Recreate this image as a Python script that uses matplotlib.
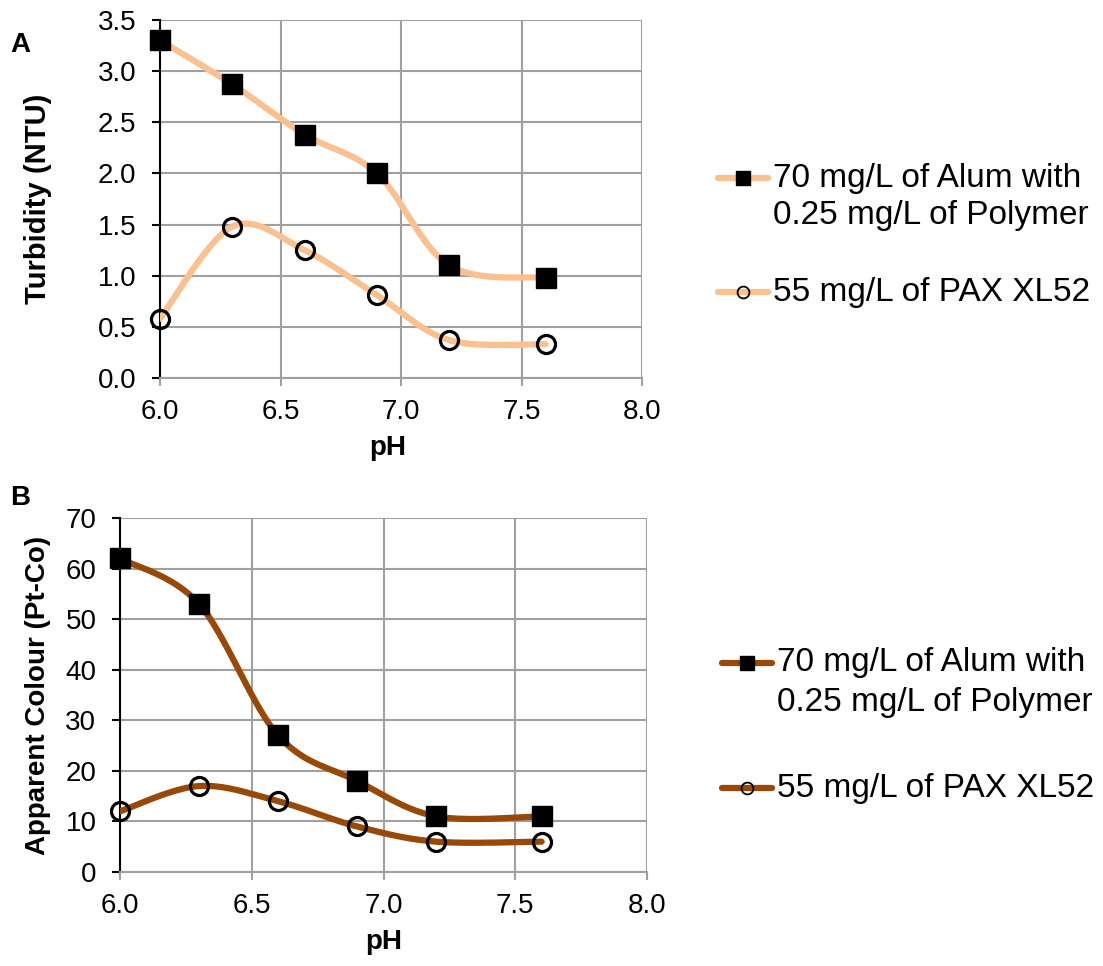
import numpy as np
import matplotlib.pyplot as plt
from matplotlib.lines import Line2D

plt.rcParams['font.family'] = ['Liberation Sans', 'DejaVu Sans']

# data
ph = [6.0, 6.3, 6.6, 6.9, 7.2, 7.6]
turb_alum = [3.30, 2.87, 2.38, 2.00, 1.10, 0.98]
turb_pax = [0.58, 1.48, 1.25, 0.81, 0.37, 0.33]
colour_alum = [62, 53, 27, 18, 11, 11]
colour_pax = [12, 17, 14, 9, 6, 6]

label_alum = '70 mg/L of Alum with\n0.25 mg/L of Polymer'
label_pax = '55 mg/L of PAX XL52'

W, H = 1103, 966
grid_col = '#A0A0A0'


def excel_smooth(xs, ys, sx, sy, n=40):
    # bezier smoothing like Excel's "smoothed line", done in pixel space
    pts = np.column_stack([np.asarray(xs) * sx, np.asarray(ys) * sy])
    t = np.linspace(0, 1, n)[:, None]
    segs = []
    for i in range(len(pts) - 1):
        p0 = pts[i - 1] if i > 0 else pts[i]
        p1, p2 = pts[i], pts[i + 1]
        p3 = pts[i + 2] if i + 2 < len(pts) else pts[i + 1]
        c1 = p1 + (p2 - p0) / 6
        c2 = p2 - (p3 - p1) / 6
        segs.append((1 - t) ** 3 * p1 + 3 * (1 - t) ** 2 * t * c1
                    + 3 * (1 - t) * t ** 2 * c2 + t ** 3 * p2)
    out = np.vstack(segs)
    return out[:, 0] / sx, out[:, 1] / sy


def make_panel(rect_px, ymax, ystep, yfmt, line_col, y1, y2, ylabel, ylabel_size,
               letter, letter_xy, xlabel_x, legend_px):
    l, t, r, b = rect_px
    ax = fig.add_axes([l / W, 1 - b / H, (r - l) / W, (b - t) / H])
    sx = (r - l) / 2.0
    sy = (b - t) / ymax

    for ys in (y1, y2):
        xs_s, ys_s = excel_smooth(ph, ys, sx, sy)
        ax.plot(xs_s, ys_s, color=line_col, lw=4.5, solid_capstyle='round', zorder=3)
    ax.plot(ph, y1, ls='none', marker='s', ms=14, mfc='black', mec='black',
            zorder=4, clip_on=False)
    ax.plot(ph, y2, ls='none', marker='o', ms=13, mfc='none', mec='black',
            mew=2.3, zorder=4, clip_on=False)

    ax.set_xlim(6.0, 8.0)
    ax.set_ylim(0, ymax)
    ax.set_xticks(np.arange(6.0, 8.01, 0.5))
    ax.set_yticks(np.arange(0, ymax + ystep / 2, ystep))
    ax.xaxis.set_major_formatter(plt.FormatStrFormatter('%.1f'))
    ax.yaxis.set_major_formatter(plt.FormatStrFormatter(yfmt))
    ax.grid(True, color=grid_col, lw=1.5, zorder=0)
    ax.set_axisbelow(True)
    for s in ('top', 'right'):
        ax.spines[s].set_visible(False)
    ax.spines['bottom'].set_color(grid_col)
    ax.spines['bottom'].set_linewidth(1.5)
    ax.spines['left'].set_color('black')
    ax.spines['left'].set_linewidth(1.5)
    ax.spines['left'].set_zorder(2.5)
    ax.tick_params(axis='x', colors=grid_col, length=6, width=1.5,
                   labelcolor='black', labelsize=20, pad=9)
    ax.tick_params(axis='y', colors='black', length=6, width=1.5,
                   labelsize=20, pad=11)

    ax.set_xlabel('pH', fontsize=20, fontweight='bold')
    ax.xaxis.set_label_coords((xlabel_x - l) / (r - l), -0.16)
    ax.set_ylabel(ylabel, fontsize=ylabel_size, fontweight='bold', va='center')
    ax.yaxis.set_label_coords((38 - l) / (r - l), 0.5)

    fig.text(letter_xy[0] / W, 1 - letter_xy[1] / H, letter, fontsize=20,
             fontweight='bold', ha='left', va='center')

    # legend drawn to the right of the panel
    hx0, hx1, tx, ya, yb, yc = legend_px
    for yy, mk, ms, mfc, mew in ((ya, 's', 10, 'black', 1.0),
                                 (yc, 'o', 8.5, 'none', 1.3)):
        fig.add_artist(Line2D([hx0 / W, hx1 / W], [1 - yy / H, 1 - yy / H],
                              color=line_col, lw=4.5, solid_capstyle='round'))
        fig.add_artist(Line2D([(hx0 + hx1) / 2 / W], [1 - yy / H], marker=mk,
                              ms=ms, mfc=mfc, mec='black', mew=mew, ls='none'))
    first, second = label_alum.split('\n')
    fig.text(tx / W, 1 - ya / H, first, fontsize=24, ha='left', va='center')
    fig.text(tx / W, 1 - yb / H, second, fontsize=24, ha='left', va='center')
    fig.text(tx / W, 1 - yc / H, label_pax, fontsize=24, ha='left', va='center')
    return ax


fig = plt.figure(figsize=(W / 100, H / 100), dpi=100)

make_panel((160, 20, 642, 378), 3.5, 0.5, '%.1f', '#FAC090',
           turb_alum, turb_pax, 'Turbidity (NTU)', 21, 'A', (10, 45), 388,
           (718, 768, 773, 178, 215, 292))
make_panel((120, 518, 647, 872), 70, 10, '%d', '#984807',
           colour_alum, colour_pax, 'Apparent Colour (Pt-Co)', 20, 'B', (10, 498), 384,
           (722, 772, 777, 663, 702, 788))

fig.savefig('out.png', dpi=100)
